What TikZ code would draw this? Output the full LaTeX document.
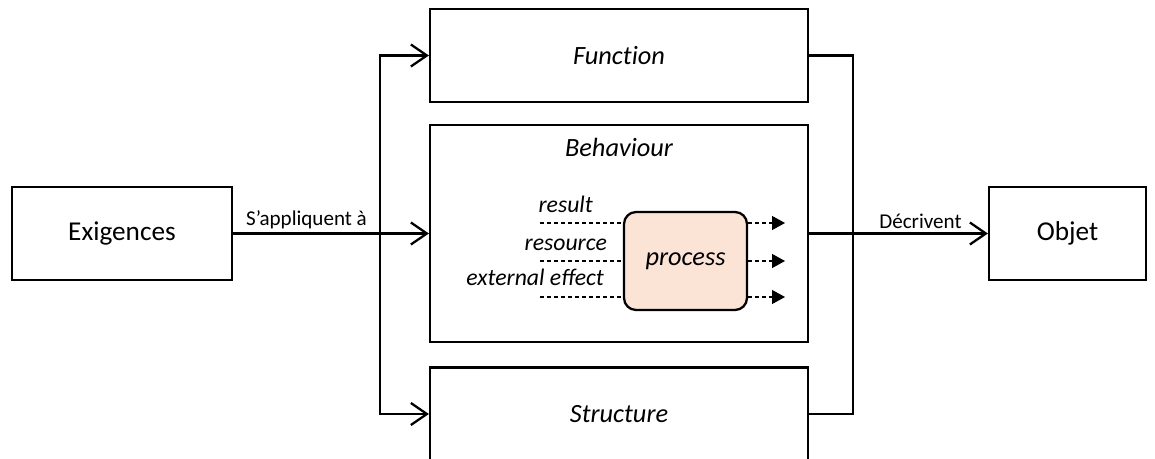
\documentclass[tikz,border=0pt]{standalone}
\usepackage{fontspec}
\setmainfont{Carlito}
\usetikzlibrary{arrows.meta}
\definecolor{procfill}{HTML}{FBE3D6}
\tikzset{
  box/.style={draw, line width=1.3pt, minimum height=1.86cm, inner sep=0pt, font=\fontsize{15.5}{18}\selectfont},
  boxit/.style={box, font=\fontsize{15}{18}\selectfont\itshape\addfontfeature{RawFeature=-liga}},
  feed/.style={-{Straight Barb[length=0.32cm, width=0.44cm]}},
  dots/.style={line width=0.7pt, dash pattern=on 2.3pt off 1.7pt},
  dotarrow/.style={dots, -{Triangle[length=0.26cm, width=0.28cm]}},
  stub/.style={inner sep=0pt, font=\fontsize{13.5}{16}\selectfont\itshape},
  tag/.style={inner sep=2pt, font=\fontsize{12}{14}\selectfont},
}
\begin{document}
\begin{tikzpicture}[x=0.02cm, y=-0.02cm, line width=1.3pt]
  \useasboundingbox (0,0) rectangle (1155,459);
  \node[box, minimum width=4.4cm] (exig) at (122,233.5) {Exigences};
  \node[box, minimum width=3.14cm] (objet) at (1067.5,233.5) {Objet};
  \node[boxit, minimum width=7.56cm] (func) at (619,55.5) {Function};
  \node[box, minimum width=7.56cm, minimum height=4.34cm] (behav) at (619,233.5) {};
  \node[boxit, minimum width=7.56cm] (struct) at (619,414) {Structure};
  \node[stub, anchor=base, font=\fontsize{15}{18}\selectfont\itshape] (behavlbl) at (619,157) {Behaviour};
  \node[draw, rounded corners=0.24cm, fill=procfill, minimum width=2.46cm, minimum height=1.96cm,
        inner sep=0pt, font=\fontsize{15}{18}\selectfont\itshape] (process) at (685.5,261) {process};
  \coordinate (busL) at (380,233.5);
  \coordinate (busR) at (853,233.5);
  \draw (exig.east) -- node[tag, above] (applq) {S’appliquent à} (busL);
  \draw[feed] (busL) -- (behav.west);
  \draw[feed] (busL) |- (func.west);
  \draw[feed] (busL) |- (struct.west);
  \draw (func.east) -| (busR);
  \draw (struct.east) -| (busR);
  \draw (behav.east) -- (busR);
  \draw[feed] (busR) -- node[tag, above] (decr) {Décrivent} (objet.west);
  \coordinate (in1) at (540,223);
  \coordinate (in2) at (540,261);
  \coordinate (in3) at (540,297);
  \coordinate (out1) at (785,223);
  \coordinate (out2) at (785,261);
  \coordinate (out3) at (785,297);
  \draw[dots] (in1) -- (process.west |- in1);
  \draw[dots] (in2) -- (process.west |- in2);
  \draw[dots] (in3) -- (process.west |- in3);
  \draw[dotarrow] (process.east |- out1) -- (out1);
  \draw[dotarrow] (process.east |- out2) -- (out2);
  \draw[dotarrow] (process.east |- out3) -- (out3);
  \node[stub, anchor=base east] (lblres) at (594,213) {result};
  \node[stub, anchor=base east] (lblsrc) at (608,250) {resource};
  \node[stub, anchor=base east] (lblext) at (605,285) {external effect};
\end{tikzpicture}
\end{document}
